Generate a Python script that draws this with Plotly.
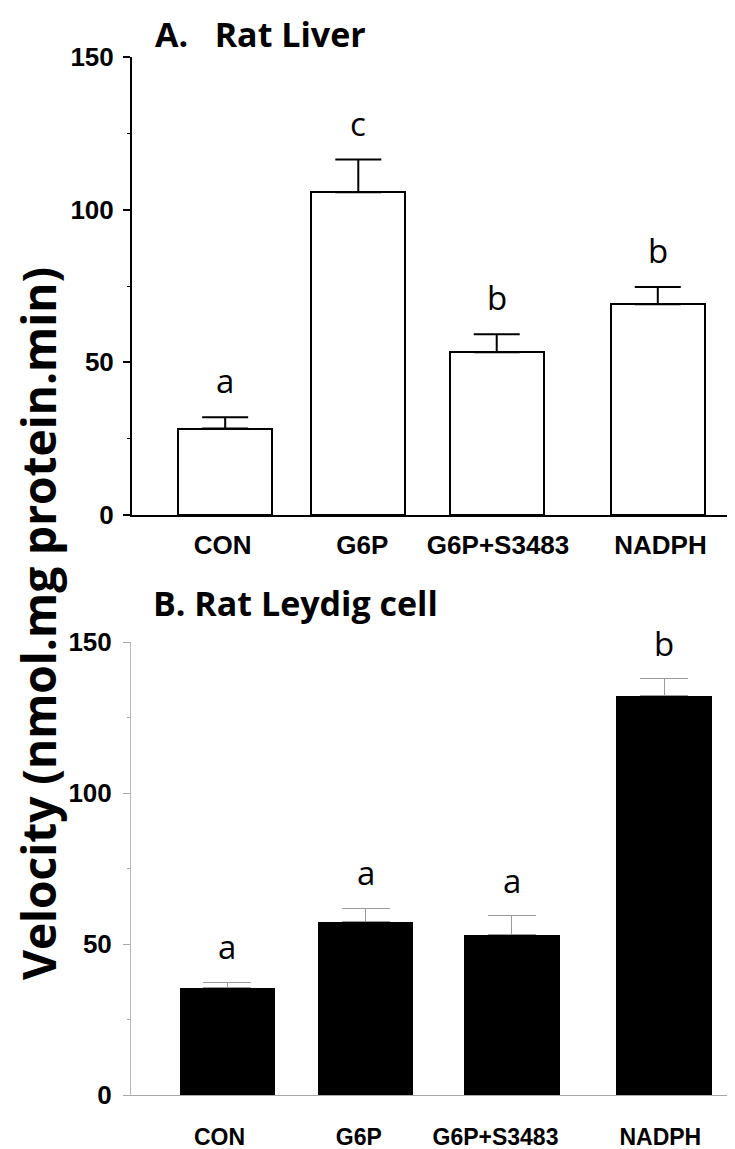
import plotly.graph_objects as go

# ---- data ----
categories = ["CON", "G6P", "G6P+S3483", "NADPH"]
liver_mean = [28.3, 105.7, 53.3, 69.0]
liver_err = [3.7, 10.7, 5.9, 5.7]
liver_letters = ["a", "c", "b", "b"]
leydig_mean = [35.5, 57.4, 53.0, 132.2]
leydig_err = [1.9, 4.4, 6.3, 5.7]
leydig_letters = ["a", "a", "a", "b"]
y_ticks = [0, 50, 100, 150]

# ---- layout positions (slot units) ----
pos_A = [0.0, 1.0, 2.04, 3.25]
pos_B = [0.02, 1.05, 2.14, 3.28]
lab_A = [-0.02, 1.03, 2.05, 3.27]
lab_B = [-0.04, 1.0, 2.02, 3.25]

OFF = 8                      # page body margin
W, H = 735 - OFF, 1149 - OFF
def px(p):   # page pixel from left -> paper x
    return (p - OFF) / W
def py(p):   # page pixel from top -> paper y
    return 1 - (p - OFF) / H

fig = go.Figure()
fig.add_trace(go.Bar(
    x=pos_A, y=liver_mean, width=0.705, xaxis="x", yaxis="y",
    marker=dict(color="white", line=dict(color="black", width=2)),
    error_y=dict(type="data", array=liver_err, arrayminus=[0]*4, symmetric=False,
                 color="black", thickness=2, width=23),
    showlegend=False, hoverinfo="skip"))
fig.add_trace(go.Bar(
    x=pos_B, y=leydig_mean, width=0.716, xaxis="x2", yaxis="y2",
    marker=dict(color="black", line=dict(color="black", width=0)),
    error_y=dict(type="data", array=leydig_err, arrayminus=[0]*4, symmetric=False,
                 color="#9a9a9a", thickness=1, width=24),
    showlegend=False, hoverinfo="skip"))

tickfont = dict(family="Liberation Sans, Arial", size=26, color="black", weight="bold")
tickfont_b = dict(family="Liberation Sans, Arial", size=23, color="black", weight="bold")
letter_font = dict(family="Open Sans", size=33, color="black")

ann = []
for xp, m, e, t in zip(pos_A, liver_mean, liver_err, liver_letters):
    ann.append(dict(x=xp, y=m + e, xref="x", yref="y", text=t, showarrow=False,
                    yanchor="bottom", yshift=12, font=letter_font))
for xp, m, e, t in zip(pos_B, leydig_mean, leydig_err, leydig_letters):
    ann.append(dict(x=xp, y=m + e, xref="x2", yref="y2", text=t, showarrow=False,
                    yanchor="bottom", yshift=11, font=letter_font))

title_font = dict(family="Open Sans", size=34, color="black", weight="bold")
ann.append(dict(x=px(153), y=py(9), xref="paper", yref="paper", text="A.   Rat Liver",
                showarrow=False, xanchor="left", yanchor="top", font=title_font))
ann.append(dict(x=px(151), y=py(603), xref="paper", yref="paper", text="B. Rat Leydig cell",
                showarrow=False, xanchor="left", yanchor="middle", font=title_font))
ann.append(dict(x=px(38), y=py(624), xref="paper", yref="paper",
                text="Velocity (nmol.mg protein.min)", textangle=-90,
                showarrow=False, xanchor="center", yanchor="middle",
                font=dict(family="Open Sans", size=46, color="black", weight="bold")))

fig.update_layout(
    width=W, height=H, margin=dict(l=0, r=0, t=0, b=0, autoexpand=False),
    paper_bgcolor="white", plot_bgcolor="white",
    bargap=0, annotations=ann,
    xaxis=dict(domain=[px(132), px(731)], range=[-0.7, 3.8], anchor="y", automargin=False,
               tickvals=lab_A, ticktext=categories, ticks="", showgrid=False,
               zeroline=False, showline=True, linecolor="black", linewidth=2,
               tickfont=tickfont, ticklabelstandoff=6),
    yaxis=dict(domain=[py(515), py(57)], range=[0, 150], anchor="x", automargin=False,
               tickvals=y_ticks, ticks="outside", ticklen=7, tickwidth=2, tickcolor="black",
               minor=dict(ticks="outside", dtick=25, ticklen=3, tickwidth=1, tickcolor="black"),
               showgrid=False, zeroline=False, showline=True, linecolor="black", linewidth=2,
               tickfont=tickfont, ticklabelstandoff=4),
    xaxis2=dict(domain=[px(131), px(734)], range=[-0.7, 3.8], anchor="y2", automargin=False,
                tickvals=lab_B, ticktext=categories, ticks="", showgrid=False,
                zeroline=False, showline=True, linecolor="#a8a8a8", linewidth=1,
                tickfont=tickfont_b, ticklabelstandoff=21),
    yaxis2=dict(domain=[py(1095), py(642)], range=[0, 150], anchor="x2", automargin=False,
                tickvals=y_ticks, ticks="outside", ticklen=7, tickwidth=1, tickcolor="#a8a8a8",
                minor=dict(ticks="outside", dtick=25, ticklen=3, tickwidth=1, tickcolor="#a8a8a8"),
                showgrid=False, zeroline=False, showline=True, linecolor="#b8b8b8", linewidth=1,
                tickfont=tickfont, ticklabelstandoff=6),
)

fig.write_html("out.html")
